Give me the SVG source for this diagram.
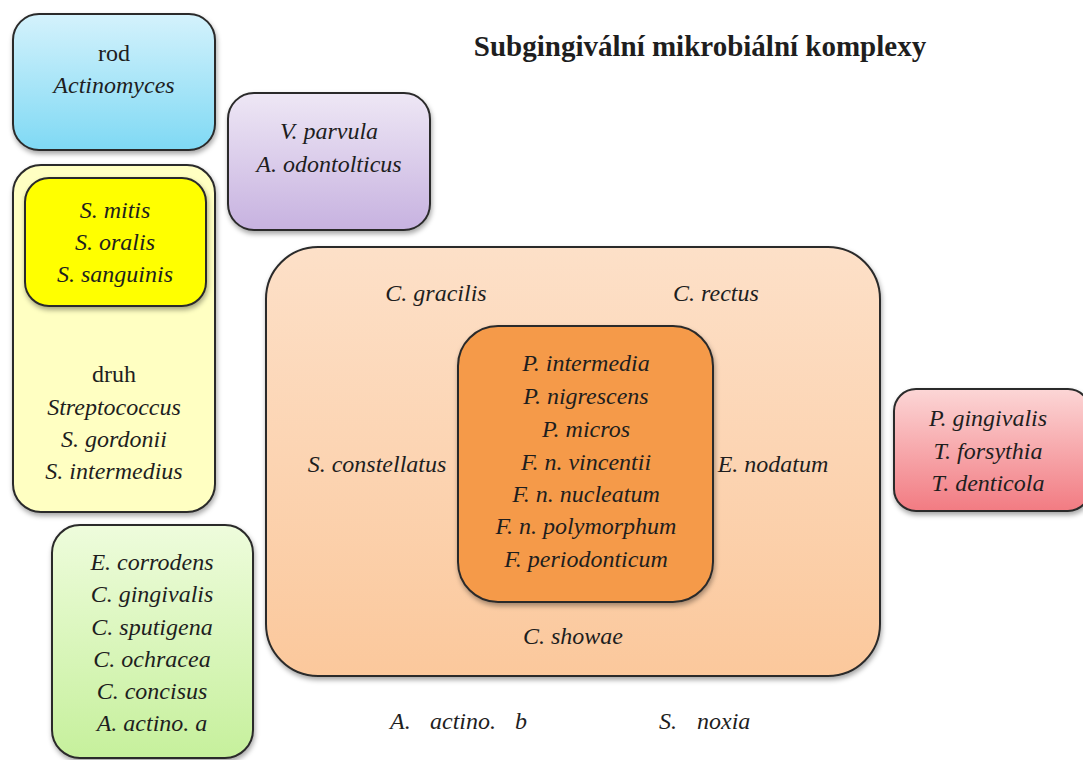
<svg xmlns="http://www.w3.org/2000/svg" width="1083" height="760" viewBox="0 0 1083 760">
  <defs>
    <linearGradient id="gBlue" x1="0" y1="0" x2="0" y2="1">
      <stop offset="0" stop-color="#d4f2fc"/>
      <stop offset="1" stop-color="#7fd9f4"/>
    </linearGradient>
    <linearGradient id="gPurple" x1="0" y1="0" x2="0" y2="1">
      <stop offset="0" stop-color="#eee7f5"/>
      <stop offset="1" stop-color="#c7b2e0"/>
    </linearGradient>
    <linearGradient id="gGreen" x1="0" y1="0" x2="0" y2="1">
      <stop offset="0" stop-color="#eefcdc"/>
      <stop offset="1" stop-color="#c6f09c"/>
    </linearGradient>
    <linearGradient id="gRed" x1="0" y1="0" x2="0" y2="1">
      <stop offset="0" stop-color="#fcd6d6"/>
      <stop offset="1" stop-color="#f27b82"/>
    </linearGradient>
    <linearGradient id="gPeach" x1="0" y1="0" x2="0" y2="1">
      <stop offset="0" stop-color="#fde0c8"/>
      <stop offset="1" stop-color="#fbc89c"/>
    </linearGradient>
    <filter id="shadow" x="-10%" y="-10%" width="120%" height="125%">
      <feDropShadow dx="1" dy="3" stdDeviation="2.5" flood-color="#000" flood-opacity="0.35"/>
    </filter>
  </defs>
  <style>
    .box { stroke: #2b2b2b; stroke-width: 2; filter: url(#shadow); }
    text { font-family: "Liberation Serif", "Times New Roman", serif; font-size: 24px; fill: #1e1e1e; text-anchor: middle; }
    .it { font-style: italic; }
    .l { text-anchor: start; }
    .title { font-size: 29px; font-weight: bold; }
  </style>

  <rect width="1083" height="760" fill="#ffffff"/>

  <text class="title" x="700" y="56">Subgingivální mikrobiální komplexy</text>

  <g id="actinomyces">
    <rect class="box" x="13" y="14" width="202" height="136" rx="26" fill="url(#gBlue)"/>
    <text x="114" y="61">rod</text>
    <text class="it" x="114" y="93">Actinomyces</text>
  </g>

  <g id="purple-complex">
    <rect class="box" x="228" y="93" width="202" height="137" rx="26" fill="url(#gPurple)"/>
    <text class="it" x="329" y="139">V. parvula</text>
    <text class="it" x="329" y="172">A. odontolticus</text>
  </g>

  <g id="yellow-complex">
    <rect class="box" x="13" y="165" width="202" height="347" rx="28" fill="#ffffc2"/>
    <g id="yellow-core">
      <rect class="box" x="25" y="178" width="181" height="128" rx="24" fill="#ffff00"/>
      <text class="it" x="115" y="218">S. mitis</text>
      <text class="it" x="115" y="250">S. oralis</text>
      <text class="it" x="115" y="282">S. sanguinis</text>
    </g>
    <text x="114" y="382">druh</text>
    <text class="it" x="114" y="415">Streptococcus</text>
    <text class="it" x="114" y="447">S. gordonii</text>
    <text class="it" x="114" y="479">S. intermedius</text>
  </g>

  <g id="green-complex">
    <rect class="box" x="52" y="525" width="201" height="233" rx="28" fill="url(#gGreen)"/>
    <text class="it" x="152" y="570">E. corrodens</text>
    <text class="it" x="152" y="602">C. gingivalis</text>
    <text class="it" x="152" y="635">C. sputigena</text>
    <text class="it" x="152" y="667">C. ochracea</text>
    <text class="it" x="152" y="699">C. concisus</text>
    <text class="it" x="152" y="731">A. actino. a</text>
  </g>

  <g id="orange-complex">
    <rect class="box" x="266" y="247" width="614" height="429" rx="52" fill="url(#gPeach)"/>
    <text class="it" x="436" y="301">C. gracilis</text>
    <text class="it" x="716" y="301">C. rectus</text>
    <text class="it" x="377" y="472">S. constellatus</text>
    <text class="it" x="773" y="472">E. nodatum</text>
    <text class="it" x="573" y="644">C. showae</text>
    <g id="orange-core">
      <rect class="box" x="458" y="326" width="255" height="276" rx="40" fill="#f59a4a"/>
      <text class="it" x="586" y="371">P. intermedia</text>
      <text class="it" x="586" y="404">P. nigrescens</text>
      <text class="it" x="586" y="437">P. micros</text>
      <text class="it" x="586" y="470">F. n. vincentii</text>
      <text class="it" x="586" y="502">F. n. nucleatum</text>
      <text class="it" x="586" y="534">F. n. polymorphum</text>
      <text class="it" x="586" y="567">F. periodonticum</text>
    </g>
  </g>

  <g id="red-complex">
    <rect class="box" x="894" y="389" width="196" height="122" rx="22" fill="url(#gRed)"/>
    <text class="it" x="988" y="426">P. gingivalis</text>
    <text class="it" x="988" y="459">T. forsythia</text>
    <text class="it" x="988" y="491">T. denticola</text>
  </g>

  <g id="unassigned">
    <text class="it l" x="390" y="729">A.</text>
    <text class="it l" x="430" y="729">actino.</text>
    <text class="it l" x="515" y="729">b</text>
    <text class="it l" x="659" y="729">S.</text>
    <text class="it l" x="697" y="729">noxia</text>
  </g>

  <g id="connectors"/>
</svg>
